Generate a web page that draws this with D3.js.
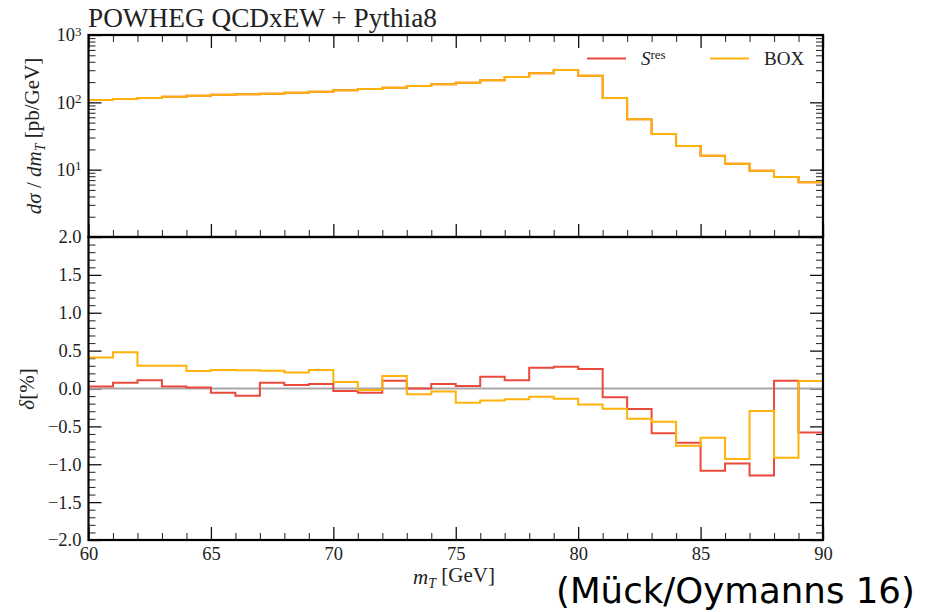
<!DOCTYPE html>
<html>
<head>
<meta charset="utf-8">
<script src="https://cdn.jsdelivr.net/npm/d3@7"></script>
<style>
  body { margin: 0; background: #fff; }
  svg { display: block; }
  .tick text { font-family: "Liberation Serif", serif; font-size: 18.5px; fill: #222; }
</style>
</head>
<body>
<div id="chart"></div>
<script>
// 数据：m_T 分箱 (GeV)
const binEdges = d3.range(60, 91, 1);

// 上图 dσ/dm_T [pb/GeV]
const sresXsec = [108, 112, 116, 121, 125, 130, 132, 134, 139, 144, 151, 158, 165, 175, 185,
                  196, 212, 238, 270, 302, 248, 116, 56, 33.8, 22.4, 16.1, 12.2, 9.6, 7.8, 6.5];
const boxXsec  = [108, 112, 116, 121, 125, 130, 132, 134, 139, 144, 151, 158, 165, 175, 185,
                  196, 212, 238, 270, 302, 248, 116, 56, 33.8, 22.4, 16.1, 12.2, 9.6, 7.8, 6.5];

// 下图 δ[%]
const sresDelta = [0.025, 0.077, 0.11, 0.025, 0.012, -0.055, -0.095, 0.077, 0.046, 0.06,
                   -0.033, -0.055, 0.103, 0.0, 0.06, 0.033, 0.156, 0.108, 0.275, 0.288,
                   0.257, -0.117, -0.27, -0.59, -0.715, -1.085, -0.99, -1.15, 0.103, -0.58];
const boxDelta  = [0.41, 0.48, 0.30, 0.30, 0.23, 0.245, 0.24, 0.235, 0.21, 0.245,
                   0.085, -0.02, 0.165, -0.077, -0.04, -0.187, -0.16, -0.143, -0.108, -0.134,
                   -0.21, -0.266, -0.40, -0.44, -0.755, -0.65, -0.93, -0.297, -0.913, 0.10];

const xMajor = [60, 65, 70, 75, 80, 85, 90];
const logMajor = [10, 100, 1000];
const deltaMajor = [-2, -1.5, -1, -0.5, 0, 0.5, 1, 1.5, 2];

const series = [
    { name: "Sres", top: sresXsec, bottom: sresDelta, color: "#ea4a3c" },
    { name: "BOX",  top: boxXsec,  bottom: boxDelta,  color: "#ffb20a" }
];

// 画布
const width = 926, height = 612;
const pLeft = 88.5, pRight = 823, pTop = 35, pMid = 237, pBottom = 540;

const svg = d3.select("#chart").append("svg")
    .attr("width", width).attr("height", height);

const x = d3.scaleLinear().domain([60, 90]).range([pLeft, pRight]);
const yTop = d3.scaleLog().domain([1, 1000]).range([pMid, pTop]);
const yBot = d3.scaleLinear().domain([-2, 2]).range([pBottom, pMid]);

const xMinor = d3.range(60, 91, 1).filter(v => v % 5 !== 0);
const logMinor = [];
[1, 10, 100].forEach(p => d3.range(2, 10).forEach(k => logMinor.push(k * p)));
const deltaMinor = d3.range(-20, 21).map(v => v / 10).filter(v => Math.abs(Math.round(v * 10)) % 5 !== 0);

// 刻度绘制
function drawAxis(axisFn, scale, yPos, xPos, major, minor, fmt) {
    const g1 = svg.append("g")
        .attr("transform", `translate(${xPos},${yPos})`)
        .call(axisFn(scale).tickValues(major).tickSize(-13).tickPadding(7).tickFormat(fmt || (() => "")));
    g1.select(".domain").remove();
    g1.selectAll(".tick line").attr("stroke", "#111").attr("stroke-width", 1.3);
    const g2 = svg.append("g")
        .attr("transform", `translate(${xPos},${yPos})`)
        .call(axisFn(scale).tickValues(minor).tickSize(-7).tickFormat(() => ""));
    g2.select(".domain").remove();
    g2.selectAll(".tick line").attr("stroke", "#333").attr("stroke-width", 1.1);
    return g1;
}

const fmtDelta = d3.format(".1f");

// 上图刻度
drawAxis(d3.axisTop, x, pTop, 0, xMajor, xMinor);
drawAxis(d3.axisBottom, x, pMid, 0, xMajor, xMinor);
const gLogL = drawAxis(d3.axisLeft, yTop, 0, pLeft, logMajor, logMinor, d => "x");
drawAxis(d3.axisRight, yTop, 0, pRight, logMajor, logMinor);

gLogL.selectAll(".tick text").each(function(d) {
    const t = d3.select(this).text("");
    t.append("tspan").text("10");
    t.append("tspan").attr("dy", "-0.45em").attr("font-size", "13px").text(Math.round(Math.log10(d)));
});

// 下图刻度
drawAxis(d3.axisBottom, x, pBottom, 0, xMajor, xMinor, d3.format("d"));
drawAxis(d3.axisLeft, yBot, 0, pLeft, deltaMajor, deltaMinor, fmtDelta);
drawAxis(d3.axisRight, yBot, 0, pRight, deltaMajor, deltaMinor);

// 零线
svg.append("line")
    .attr("x1", pLeft).attr("x2", pRight)
    .attr("y1", yBot(0)).attr("y2", yBot(0))
    .attr("stroke", "#a8a8a8").attr("stroke-width", 2);

// 阶梯线
function stepPts(vals) {
    const pts = vals.map((v, i) => [binEdges[i], v]);
    pts.push([binEdges[vals.length], vals[vals.length - 1]]);
    return pts;
}

const lineTop = d3.line().curve(d3.curveStepAfter).x(d => x(d[0])).y(d => yTop(d[1]));
const lineBot = d3.line().curve(d3.curveStepAfter).x(d => x(d[0])).y(d => yBot(d[1]));

series.forEach(s => {
    svg.append("path")
        .attr("d", lineTop(stepPts(s.top)))
        .attr("fill", "none").attr("stroke", s.color).attr("stroke-width", 2);
});
series.forEach(s => {
    svg.append("path")
        .attr("d", lineBot(stepPts(s.bottom)))
        .attr("fill", "none").attr("stroke", s.color).attr("stroke-width", 2);
});

// 边框
svg.append("rect")
    .attr("x", pLeft).attr("y", pTop).attr("width", pRight - pLeft).attr("height", pMid - pTop)
    .attr("fill", "none").attr("stroke", "#000").attr("stroke-width", 2.2);
svg.append("rect")
    .attr("x", pLeft).attr("y", pMid).attr("width", pRight - pLeft).attr("height", pBottom - pMid)
    .attr("fill", "none").attr("stroke", "#000").attr("stroke-width", 2.2);

// 图例
const legend = svg.append("g").attr("font-family", "Liberation Serif, serif").attr("font-size", "19px").attr("fill", "#222");
legend.append("line").attr("x1", 587).attr("x2", 626).attr("y1", 58.5).attr("y2", 58.5)
    .attr("stroke", series[0].color).attr("stroke-width", 2);
const lt = legend.append("text").attr("x", 641).attr("y", 65);
lt.append("tspan").attr("font-style", "italic").text("S");
lt.append("tspan").attr("dy", "-0.45em").attr("font-size", "13px").text("res");
legend.append("line").attr("x1", 710).attr("x2", 749).attr("y1", 58.5).attr("y2", 58.5)
    .attr("stroke", series[1].color).attr("stroke-width", 2);
legend.append("text").attr("x", 764).attr("y", 65).text("BOX");

// 标题与轴标签
function fitWidth(sel, target) {
    const w = sel.node().getComputedTextLength();
    const fs = parseFloat(sel.attr("font-size"));
    sel.attr("font-size", (fs * target / w).toFixed(2) + "px");
}

const title = svg.append("text")
    .attr("x", 88).attr("y", 27)
    .attr("font-family", "Liberation Serif, serif").attr("font-size", "23px").attr("fill", "#222")
    .text("POWHEG QCDxEW + Pythia8");
fitWidth(title, 349);

const yl1 = svg.append("text")
    .attr("transform", "translate(41,136) rotate(-90)")
    .attr("text-anchor", "middle")
    .attr("font-family", "Liberation Serif, serif").attr("font-size", "21px").attr("fill", "#222");
yl1.append("tspan").attr("font-style", "italic").text("dσ");
yl1.append("tspan").text(" / ");
yl1.append("tspan").attr("font-style", "italic").text("dm");
yl1.append("tspan").attr("font-style", "italic").attr("font-size", "14px").attr("dy", "0.3em").text("T");
yl1.append("tspan").attr("dy", "-0.3em").text(" [pb/GeV]");

const yl2 = svg.append("text")
    .attr("transform", "translate(34,389) rotate(-90)")
    .attr("text-anchor", "middle")
    .attr("font-family", "Liberation Serif, serif").attr("font-size", "21px").attr("fill", "#222");
yl2.append("tspan").attr("font-style", "italic").text("δ");
yl2.append("tspan").text("[%]");

const xl = svg.append("text")
    .attr("x", 454).attr("y", 584)
    .attr("text-anchor", "middle")
    .attr("font-family", "Liberation Serif, serif").attr("font-size", "21px").attr("fill", "#222");
xl.append("tspan").attr("font-style", "italic").text("m");
xl.append("tspan").attr("font-style", "italic").attr("font-size", "14px").attr("dy", "0.3em").text("T");
xl.append("tspan").attr("dy", "-0.3em").text(" [GeV]");

const credit = svg.append("text")
    .attr("x", 556).attr("y", 603)
    .attr("font-family", "DejaVu Sans, sans-serif").attr("font-size", "36px").attr("fill", "#000")
    .text("(Mück/Oymanns 16)");
fitWidth(credit, 359);
</script>
</body>
</html>
